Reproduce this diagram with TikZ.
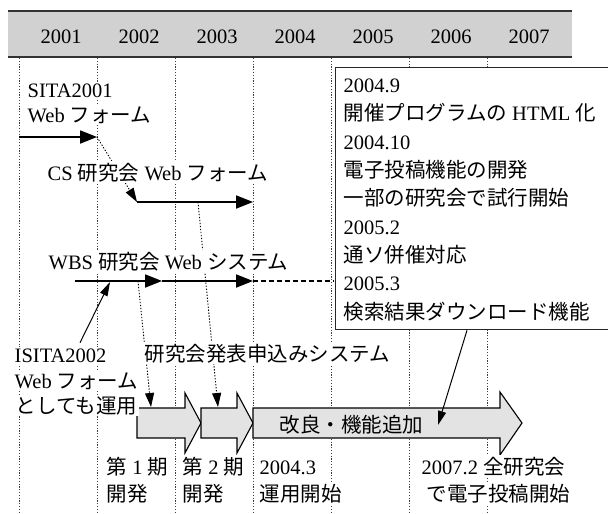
\documentclass[tikz,border=0pt]{standalone}
\usepackage{fontspec}
\setmainfont{Liberation Serif}
\newfontfamily\jpf{Noto Sans CJK JP}
\usetikzlibrary{arrows.meta}
\newcommand\J[1]{{\jpf #1}}
\begin{document}
\begin{tikzpicture}[x=1pt,y=-1pt,
  font=\fontsize{20.5}{24}\selectfont,
  txt/.style={anchor=base west, inner sep=1.5pt, fill=white},
  yearlab/.style={anchor=base},
  gridline/.style={line width=0.8pt, dash pattern=on 1.2pt off 1.6pt, black!75},
  bigarr/.style={line width=1.8pt, -{Triangle[length=17pt,width=13pt]}},
  dotarr/.style={line width=0.9pt, dash pattern=on 1.3pt off 1.7pt, -{Triangle[length=14pt,width=9pt]}},
  thinarr/.style={line width=1pt, -{Triangle[length=14pt,width=8pt]}},
  dasharr/.style={line width=1.5pt, dash pattern=on 5pt off 3pt},
  blockarr/.style={draw=black, line width=1.1pt, fill=black!11, line join=miter}]
\useasboundingbox (0,0) rectangle (608,514);
\clip (0,0) rectangle (608,514);

% header band
\fill[black!18] (8,11) rectangle (572,57);
\draw[line width=1.6pt, black!80] (8,11) -- (572,11);
\draw[line width=2pt, black!80] (8,57) -- (572,57);
\foreach \i/\yr in {0/2001,1/2002,2/2003,3/2004,4/2005,5/2006,6/2007}
  \node[yearlab] (y\yr) at (61+78*\i, 43) {\yr};

% grid lines
\foreach \x in {19,97,...,487} \draw[gridline] (\x,58) -- (\x,514);

% info box
\node[draw=black!85, line width=1.3pt, fill=white, anchor=north west,
      minimum width=280pt, minimum height=262pt, inner sep=0pt] (info) at (335,67) {};
\path (info.south west) ++(132,0) coordinate (infoOut);

% block arrows
\draw[blockarr] (137,408) -- (185,408) -- (185,393) -- (201,423) -- (185,453) -- (185,438) -- (137,438) -- cycle;
\draw[blockarr] (201,408) -- (237,408) -- (237,393) -- (253,423) -- (237,453) -- (237,438) -- (201,438) -- cycle;
\draw[blockarr] (253,408) -- (500,408) -- (500,392) -- (522,423) -- (500,455) -- (500,438) -- (253,438) -- cycle;

% coordinates
\coordinate (sitaA) at (19,137);
\coordinate (sitaB) at (97,137);
\coordinate (csA) at (137,202);
\coordinate (csM) at (198,202);
\coordinate (csB) at (253,202);
\coordinate (wbsA) at (75,281);
\coordinate (wbsM) at (138,281);
\coordinate (wbsI) at (110,282);
\coordinate (wbsB) at (162,281);
\coordinate (wbsC) at (253,281);
\coordinate (wbsD) at (334,281);
\coordinate (p1top) at (151,407);
\coordinate (p2top) at (218,407);
\coordinate (kairyo) at (438,425);

% dotted connectors
\draw[dotarr] (sitaB) -- (csA);
\draw[dotarr] (csM) -- (p2top);
\draw[dotarr] (wbsM) -- (p1top);

% texts
\node[txt] (t1a) at (26,97) {SITA2001};
\node[txt] (t1b) at (26,122) {Web \J{フォーム}};
\node[txt] (t2) at (46,180) {CS \J{研究会} Web \J{フォーム}};
\node[txt] (t3) at (47,269) {WBS \J{研究会} Web \J{システム}};
\node[txt] (t4a) at (13,362) {ISITA2002};
\node[txt] (t4b) at (13,388) {Web \J{フォーム}};
\node[txt] (t4c) at (14,413) {\J{としても運用}};
\node[txt] (t5) at (143,361) {\J{研究会発表申込みシステム}};
\node[txt] (b1a) at (105,474) {\J{第} 1 \J{期}};
\node[txt] (b1b) at (105,501) {\J{開発}};
\node[txt] (b2a) at (181,474) {\J{第} 2 \J{期}};
\node[txt] (b2b) at (181,501) {\J{開発}};
\node[txt] (b3a) at (258,474) {2004.3};
\node[txt] (b3b) at (258,501) {\J{運用開始}};
\node[txt] (b4a) at (420,474) {2007.2 \J{全研究会}};
\node[txt] (b4b) at (425,501) {\J{で電子投稿開始}};

% box texts
\node[txt] (i1) at (342,92) {2004.9};
\node[txt] (i2) at (342,120) {\J{開催プログラムの} HTML \J{化}};
\node[txt] (i3) at (342,149) {2004.10};
\node[txt] (i4) at (342,177) {\J{電子投稿機能の開発}};
\node[txt] (i5) at (342,205) {\J{一部の研究会で試行開始}};
\node[txt] (i6) at (342,234) {2005.2};
\node[txt] (i7) at (342,262) {\J{通ソ併催対応}};
\node[txt] (i8) at (342,290) {2005.3};
\node[txt] (i9) at (342,319) {\J{検索結果ダウンロード機能}};

% solid arrows
\draw[bigarr] (sitaA) -- (sitaB);
\draw[bigarr] (csA) -- (csB);
\draw[bigarr] (wbsA) -- (wbsB);
\draw[bigarr] (wbsB) -- (wbsC);
\draw[dasharr] (wbsC) -- (wbsD);
\draw[thinarr] (t4a.north -| 80,0) ++(0,-4) coordinate (isitaOut) -- (wbsI);
\draw[thinarr] (infoOut) -- (kairyo);

\node[anchor=base west, inner sep=1.5pt] (t6) at (278,432) {\J{改良・機能追加}};
\end{tikzpicture}
\end{document}
